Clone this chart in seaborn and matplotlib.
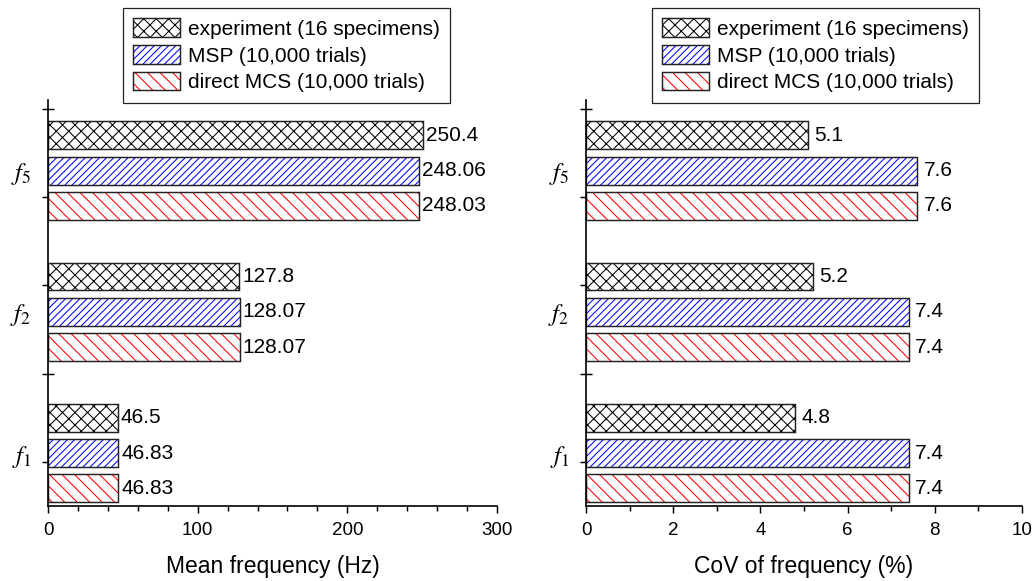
import matplotlib
matplotlib.use("Agg")
import matplotlib.pyplot as plt
import seaborn as sns
import pandas as pd
from matplotlib.patches import Rectangle, Patch
from matplotlib.ticker import FixedLocator, MultipleLocator

# ---- data ----
modes = ["$f_5$", "$f_2$", "$f_1$"]
methods = ["experiment (16 specimens)", "MSP (10,000 trials)", "direct MCS (10,000 trials)"]
mean_exp = [250.4, 127.8, 46.5]
mean_msp = [248.06, 128.07, 46.83]
mean_mcs = [248.03, 128.07, 46.83]
mean_lbl_exp = ["250.4", "127.8", "46.5"]
mean_lbl_msp = ["248.06", "128.07", "46.83"]
mean_lbl_mcs = ["248.03", "128.07", "46.83"]
cov_exp = [5.1, 5.2, 4.8]
cov_msp = [7.6, 7.4, 7.4]
cov_mcs = [7.6, 7.4, 7.4]
cov_lbl_exp = ["5.1", "5.2", "4.8"]
cov_lbl_msp = ["7.6", "7.4", "7.4"]
cov_lbl_mcs = ["7.6", "7.4", "7.4"]

hatch_colors = ["black", "#0000ff", "#ff0000"]
hatches = ["xxxx", "/" * 7, "\\" * 4]

sns.set_style("white")
plt.rcParams["font.family"] = ["Liberation Sans", "DejaVu Sans"]
plt.rcParams["mathtext.fontset"] = "stix"
plt.rcParams["hatch.linewidth"] = 0.5
for k in ["text.color", "axes.labelcolor", "xtick.color", "ytick.color", "axes.edgecolor"]:
    plt.rcParams[k] = "black"

def make_df(e, m, c):
    rows = []
    for vals, meth in zip([e, m, c], methods):
        for mode, v in zip(modes, vals):
            rows.append({"mode": mode, "method": meth, "value": v})
    return pd.DataFrame(rows)

fig = plt.figure(figsize=(6.9, 581 / 150), dpi=150)
W, H = 1035, 581
ax1 = fig.add_axes([48 / W, (H - 506) / H, 449 / W, 406 / H])
ax2 = fig.add_axes([586 / W, (H - 506) / H, 436 / W, 406 / H])

def draw(ax, df, labels, xlim, xmaj, xmin, xlabel, pad, leg_x):
    sns.barplot(data=df, x="value", y="mode", hue="method", orient="h",
                order=modes, hue_order=methods, palette=["white"] * 3,
                width=0.75, gap=0.21, ax=ax, legend=False, zorder=3)
    for cont, hc, hat, lbls in zip(ax.containers, hatch_colors, hatches, labels):
        for p in cont.patches:
            p.set_facecolor("white")
            p.set_edgecolor(hc)
            p.set_hatch(hat)
            p.set_linewidth(0)
            p.set_zorder(3)
            ax.add_patch(Rectangle((p.get_x(), p.get_y()), p.get_width(), p.get_height(),
                                   fill=False, edgecolor="#222222", linewidth=0.7, zorder=3.2))
        ax.bar_label(cont, labels=lbls, padding=pad, fontsize=10, color="black")
    ax.set_xlim(*xlim)
    ax.set_ylim(2.375, -0.5)
    ax.xaxis.set_major_locator(MultipleLocator(xmaj))
    ax.xaxis.set_minor_locator(MultipleLocator(xmin))
    ax.tick_params(axis="x", which="major", bottom=True, direction="out", length=3.5,
                   width=0.7, labelsize=9, pad=4)
    ax.tick_params(axis="x", which="minor", bottom=True, direction="out", length=2.2, width=0.7)
    ax.yaxis.set_minor_locator(FixedLocator([2.0625, 1.4375, 0.8125, 0.1875, -0.4375]))
    ax.tick_params(axis="y", which="major", left=True, length=0, labelsize=12, pad=8)
    ax.tick_params(axis="y", which="minor", left=True, direction="inout", length=6, width=0.7)
    ax.set_ylabel("")
    ax.set_xlabel(xlabel, fontsize=11, labelpad=8)
    for s in ["top", "right"]:
        ax.spines[s].set_visible(False)
    for s in ["left", "bottom"]:
        ax.spines[s].set_linewidth(0.8)
        ax.spines[s].set_color("black")
        ax.spines[s].set_zorder(4)
    handles = []
    for hc, hat in zip(hatch_colors, hatches):
        h1 = Patch(facecolor="white", edgecolor=hc, hatch=hat, linewidth=0)
        h2 = Patch(facecolor="none", edgecolor="#222222", linewidth=0.7)
        handles.append((h1, h2))
    leg = fig.legend(handles, methods, loc="upper left",
                     bbox_to_anchor=(leg_x / W, 1 - 8 / H), bbox_transform=fig.transFigure,
                     fontsize=10, handlelength=2.25, handleheight=1.0, handletextpad=0.35,
                     labelspacing=0.3, borderpad=0.5, borderaxespad=0,
                     frameon=True, fancybox=False, framealpha=1)
    leg.get_frame().set_edgecolor("#222222")
    leg.get_frame().set_linewidth(0.6)

draw(ax1, make_df(mean_exp, mean_msp, mean_mcs), [mean_lbl_exp, mean_lbl_msp, mean_lbl_mcs],
     (0, 300), 100, 20, "Mean frequency (Hz)", 1.5, 123)
draw(ax2, make_df(cov_exp, cov_msp, cov_mcs), [cov_lbl_exp, cov_lbl_msp, cov_lbl_mcs],
     (0, 10), 2, 1, "CoV of frequency (%)", 3, 652)

fig.savefig("out.png", dpi=150)
